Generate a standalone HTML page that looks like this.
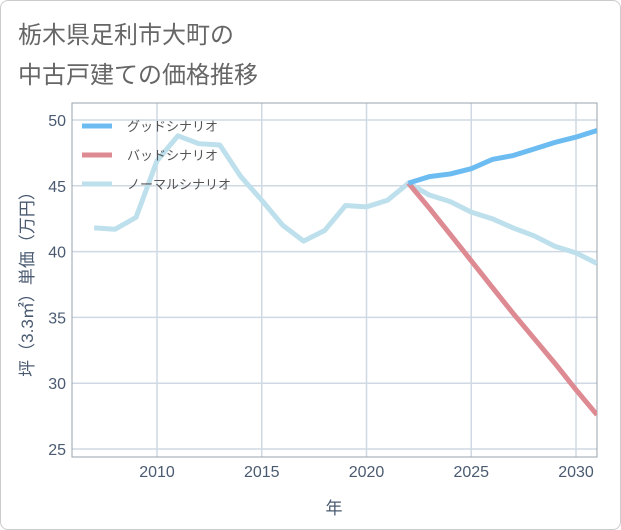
<!DOCTYPE html>
<html><head><meta charset="utf-8"><style>
body{margin:0;background:#fff;}
#wrap{position:relative;width:619px;height:528px;border:1px solid #ccc;border-radius:8px;background:#fff;overflow:hidden;}
.title{position:absolute;left:17px;font:24px "Liberation Sans","Noto Sans CJK JP",sans-serif;color:#666;}
</style></head><body>
<div id="wrap">
<div class="title" style="top:14px">栃木県足利市大町の</div>
<div class="title" style="top:54px">中古戸建ての価格推移</div>
<svg id="chart" width="621" height="530" style="position:absolute;left:-1px;top:-1px"></svg>
</div>
<script>
const years=[2007,2008,2009,2010,2011,2012,2013,2014,2015,2016,2017,2018,2019,2020,2021,2022,2023,2024,2025,2026,2027,2028,2029,2030,2031];
const normalValues=[41.8,41.7,42.6,46.9,48.8,48.2,48.1,45.7,43.9,42.0,40.8,41.6,43.5,43.4,43.9,45.2,44.3,43.8,43.0,42.5,41.8,41.2,40.4,39.9,39.1];
const goodYears=[2022,2023,2024,2025,2026,2027,2028,2029,2030,2031];
const goodValues=[45.2,45.7,45.9,46.3,47.0,47.3,47.8,48.3,48.7,49.2];
const badValues=[45.2,43.3,41.3,39.3,37.3,35.3,33.4,31.5,29.5,27.6];
const xTicks=[2010,2015,2020,2025,2030];
const yTicks=[25,30,35,40,45,50];
const legendLabels=["グッドシナリオ","バッドシナリオ","ノーマルシナリオ"];
const NS="http://www.w3.org/2000/svg";
const svg=document.getElementById('chart');
const L=72,R=597,T=103,B=457;
const x=v=>157+(v-2010)*20.95;
const y=v=>120+(50-v)*13.16;
function mk(t,a){const e=document.createElementNS(NS,t);for(const k in a)e.setAttribute(k,a[k]);svg.appendChild(e);return e;}
for(const t of xTicks){const g=mk('line',{x1:x(t),x2:x(t),y1:T,y2:B,stroke:'#cfd9e3','stroke-width':1.5});


const l=mk('text',{x:x(t),y:477,'text-anchor':'middle','font-size':16,fill:'#4a5a70','font-family':'Liberation Sans,sans-serif'});l.textContent=t;

}
for(const t of yTicks){const g=mk('line',{x1:L,x2:R,y1:y(t),y2:y(t),stroke:'#cfd9e3','stroke-width':1.5});


const l=mk('text',{x:66,y:y(t)+6,'text-anchor':'end','font-size':16,fill:'#4a5a70','font-family':'Liberation Sans,sans-serif'});l.textContent=t;

}
const fr=mk('rect',{x:L,y:T,width:R-L,height:B-T,fill:'none',stroke:'#99a3ad','stroke-width':1});


function line(xs,vs,c,name){const p=mk('polyline',{points:xs.map((v,i)=>x(v)+','+y(vs[i])).join(' '),fill:'none',stroke:c,'stroke-width':5,'stroke-linejoin':'round','clip-path':'url(#clip)'});

}
const cp=mk('clipPath',{id:'clip'});const cr=document.createElementNS(NS,'rect');cr.setAttribute('x',L);cr.setAttribute('y',T);cr.setAttribute('width',R-L);cr.setAttribute('height',B-T);cp.appendChild(cr);
line(years,normalValues,'#bde0ec','normal-scenario-line');
line(goodYears,badValues,'#dd8a93','bad-scenario-line');
line(goodYears,goodValues,'#6cbcf2','good-scenario-line');
const cols=['#6cbcf2','#dd8a93','#bde0ec'];
legendLabels.forEach((s,i)=>{const yy=126+i*29;
const k=mk('line',{x1:82,x2:112,y1:yy,y2:yy,stroke:cols[i],'stroke-width':5});


const t=mk('text',{x:127,y:yy+5,'font-size':13,fill:'#555','font-family':'Liberation Sans,Noto Sans CJK JP,sans-serif'});t.textContent=s;

});
const xt=mk('text',{x:334,y:514,'text-anchor':'middle','font-size':17,fill:'#4a5a70','font-family':'Liberation Sans,Noto Sans CJK JP,sans-serif'});xt.textContent='年';


const yt=mk('text',{x:0,y:0,'text-anchor':'middle','font-size':17,fill:'#4a5a70','font-family':'Liberation Sans,Noto Sans CJK JP,sans-serif',transform:'translate(33,280) rotate(-90)'});yt.textContent='坪（3.3㎡）単価（万円）';


</script>
</body></html>
